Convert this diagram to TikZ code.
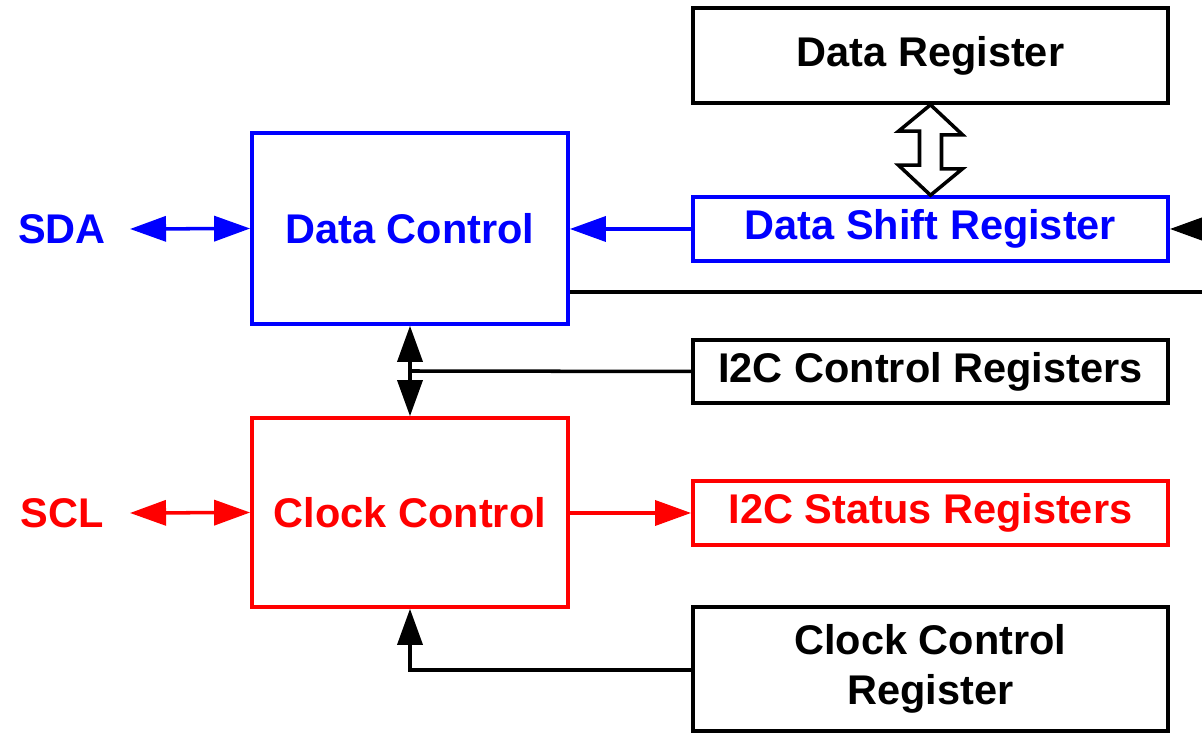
\documentclass[tikz,border=0pt]{standalone}
\usepackage{fontspec}
\setmainfont{Liberation Sans}
\usetikzlibrary{arrows.meta}

\begin{document}
\begin{tikzpicture}[x=0.01cm,y=-0.01cm,
    txt/.style={font=\fontsize{11.8}{14.2}\selectfont\bfseries},
    regbox/.style={txt,draw,line width=1pt,minimum width=4.75cm,inner sep=0pt,align=center},
    ctlbox/.style={txt,draw,line width=1pt,minimum width=3.16cm,inner sep=0pt},
    wire/.style={line width=1pt},
    tip/.style={-{Triangle[length=0.36cm,width=0.25cm]}},
    tips/.style={{Triangle[length=0.36cm,width=0.25cm]}-{Triangle[length=0.36cm,width=0.25cm]}}]
   \clip (0,0) rectangle (1202,734);
   \fill[white] (0,0) rectangle (1202,734);

   % registers on the right
   \node[regbox,minimum height=0.95cm] (dreg) at (930.5,55.5) {Data Register};
   \node[regbox,blue,minimum height=0.64cm] (dsr) at (930.5,229) {Data Shift Register};
   \node[regbox,minimum height=0.63cm] (i2cctl) at (930.5,371.5) {I2C Control Registers};
   \node[regbox,red,minimum height=0.64cm] (i2cstat) at (930.5,513) {I2C Status Registers};
   \node[regbox,minimum height=1.24cm] (clkreg) at (930.5,669) {Clock Control\\Register};

   % control blocks
   \node[ctlbox,blue,minimum height=1.91cm] (dctl) at (410,228.5) {Data Control};
   \node[ctlbox,red,minimum height=1.89cm] (clkctl) at (410,512.5) {Clock Control};

   % pins
   \node[txt,blue] (sda) at (62,229) {SDA};
   \node[txt,red] (scl) at (62,513) {SCL};

   \coordinate (sdaend) at (130,229);
   \coordinate (sclend) at (130,513);
   \coordinate (dsrin) at (1230,229);
   \coordinate (busout) at (1210,292);
   \coordinate (ctljoin) at (410,371);
   \coordinate (clkjoin) at (410,670);

   \draw[wire,tips,blue] (sdaend) -- (dctl.west);
   \draw[wire,tips,red] (sclend) -- (clkctl.west);
   \draw[wire,tip,blue] (dsr.west) -- (dctl.east |- dsr.west);
   \draw[wire,tip,red] (clkctl.east |- i2cstat.west) -- (i2cstat.west);
   \draw[wire,tip] (dsrin) -- (dsr.east);
   \draw[wire] (dctl.east |- busout) -- (busout);
   \draw[wire,tips] (dctl.south) -- (clkctl.north);
   \draw[wire] (i2cctl.west) -- (ctljoin);
   \draw[wire,tip] (clkreg.west |- clkjoin) -- (clkjoin) -- (clkctl.south);

   % hollow two-way arrow
   \draw[line width=1pt,fill=white] (dreg.south)
     -- ++(32,30) -- ++(-21,0) -- ++(0,34) -- ++(21,0)
     -- (dsr.north)
     -- ++(-32,-30) -- ++(21,0) -- ++(0,-34) -- ++(-21,0) -- cycle;
\end{tikzpicture}
\end{document}
